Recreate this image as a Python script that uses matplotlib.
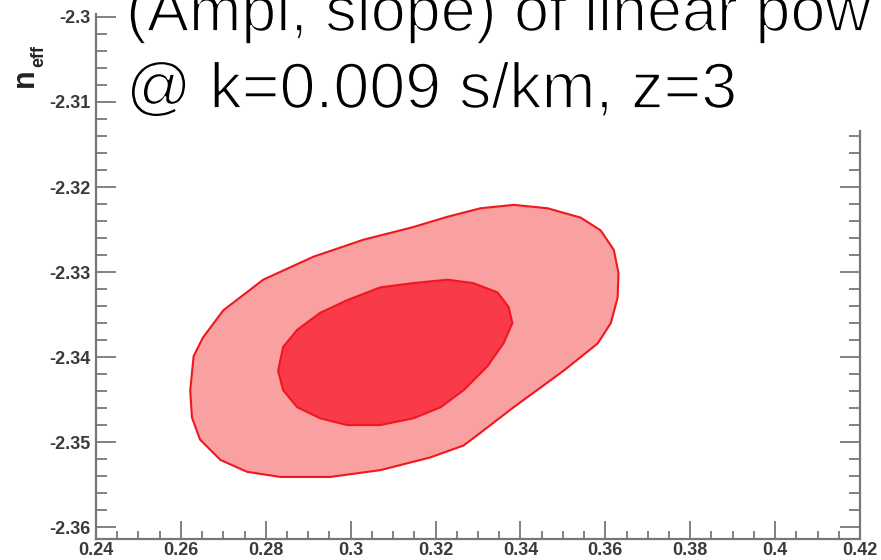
import matplotlib
matplotlib.use('Agg')
import matplotlib.pyplot as plt
import matplotlib.patheffects as pe
from matplotlib.ticker import MultipleLocator
from matplotlib.patches import Rectangle

plt.rcParams['axes.unicode_minus'] = False

# ---- data ----
outer_x = [0.2622, 0.2630, 0.2652, 0.2700, 0.2794, 0.2912, 0.3030, 0.3117, 0.3148,
           0.3228, 0.3306, 0.3384, 0.3464, 0.3542, 0.3589, 0.3620, 0.3631, 0.3629,
           0.3613, 0.3582, 0.3502, 0.3384, 0.3306, 0.3266, 0.3188, 0.3070, 0.2952,
           0.2834, 0.2756, 0.2693, 0.2645, 0.2626]
outer_y = [-2.3439, -2.3399, -2.3377, -2.3345, -2.3309, -2.3282, -2.3262, -2.3251, -2.3247,
           -2.3235, -2.3225, -2.3221, -2.3225, -2.3236, -2.3251, -2.3274, -2.3301, -2.3330,
           -2.3360, -2.3384, -2.3416, -2.3459, -2.3489, -2.3504, -2.3518, -2.3533, -2.3541,
           -2.3541, -2.3535, -2.3521, -2.3497, -2.3471]
inner_x = [0.2829, 0.2841, 0.2874, 0.2928, 0.2992, 0.3070, 0.3148, 0.3228, 0.3289,
           0.3346, 0.3372, 0.3381, 0.3360, 0.3322, 0.3266, 0.3212, 0.3148, 0.3070,
           0.2992, 0.2928, 0.2874, 0.2841]
inner_y = [-2.3416, -2.3388, -2.3368, -2.3348, -2.3333, -2.3318, -2.3313, -2.3309, -2.3313,
           -2.3324, -2.3341, -2.3360, -2.3384, -2.3411, -2.3439, -2.3459, -2.3472, -2.3480,
           -2.3480, -2.3472, -2.3459, -2.3439]

x_ticks = [0.24, 0.26, 0.28, 0.30, 0.32, 0.34, 0.36, 0.38, 0.40, 0.42]
x_tick_labels = ['0.24', '0.26', '0.28', '0.3', '0.32', '0.34', '0.36', '0.38', '0.4', '0.42']
y_ticks = [-2.36, -2.35, -2.34, -2.33, -2.32, -2.31, -2.30]
y_tick_labels = ['-2.36', '-2.35', '-2.34', '-2.33', '-2.32', '-2.31', '-2.3']
title_lines = ['(Ampl, slope) of linear pow', '@ k=0.009 s/km, z=3']
y_label_main = 'n'
y_label_sub = 'eff'

# ---- figure ----
W, H = 881, 560
fig = plt.figure(figsize=(W / 100, H / 100), dpi=100)
ax = fig.add_axes([96 / W, 21 / H, 764 / W, 525 / H])

ax.fill(outer_x, outer_y, facecolor='#F9A0A0', edgecolor='#F2161E', linewidth=1.5,
        joinstyle='round', zorder=2)
ax.fill(inner_x, inner_y, facecolor='#F93A48', edgecolor='#F2161E', linewidth=1.5,
        joinstyle='round', zorder=3)

ax.set_xlim(0.24, 0.42)
ax.set_ylim(-2.3614, -2.29965)

tick_font = dict(fontfamily='Liberation Sans', fontweight='bold', fontsize=13, color='#3a3a3a')
ax.set_xticks(x_ticks)
ax.set_xticklabels(x_tick_labels, **tick_font)
ax.set_yticks(y_ticks)
ax.set_yticklabels(y_tick_labels, **tick_font)
ax.xaxis.set_minor_locator(MultipleLocator(0.005))
ax.yaxis.set_minor_locator(MultipleLocator(0.002))

ax.tick_params(axis='both', which='both', direction='in', color='#777777', width=1.3)
ax.tick_params(axis='x', which='major', length=13, pad=2, top=False)
ax.tick_params(axis='x', which='minor', length=5.5, top=False)
ax.tick_params(axis='y', which='major', length=14.5, pad=4, left=True, right=True)
ax.tick_params(axis='y', which='minor', length=8, left=True, right=True)

ax.spines['top'].set_visible(False)
for s in ['left', 'bottom', 'right']:
    ax.spines[s].set_color('#777777')
    ax.spines[s].set_linewidth(1.6)

# white box of the title overlay
fig.add_artist(Rectangle((117 / W, 1 - 130 / H), 1 - 117 / W, 130 / H,
                         transform=fig.transFigure, facecolor='white',
                         edgecolor='none', zorder=5))

thin = [pe.Normal(), pe.Stroke(linewidth=1.3, foreground='white')]
fig.text(126 / W, 1 - 31 / H, title_lines[0], fontsize=45.3, family='Liberation Sans',
         ha='left', va='baseline', zorder=6, color='black', path_effects=thin)
fig.text(126 / W, 1 - 108 / H, title_lines[1], fontsize=46.5, family='Liberation Sans',
         ha='left', va='baseline', zorder=6, color='black', path_effects=thin)

# y label n_eff (rotated)
fig.text(25 / W, 1 - 78 / H, y_label_main, fontsize=22, family='Liberation Sans',
         fontweight='bold', rotation=90, ha='center', va='center', color='#222222')
fig.text(39 / W, 1 - 56 / H, y_label_sub, fontsize=13, family='Liberation Sans',
         fontweight='bold', rotation=90, ha='center', va='center', color='#222222')

fig.savefig('out.png', dpi=100)
